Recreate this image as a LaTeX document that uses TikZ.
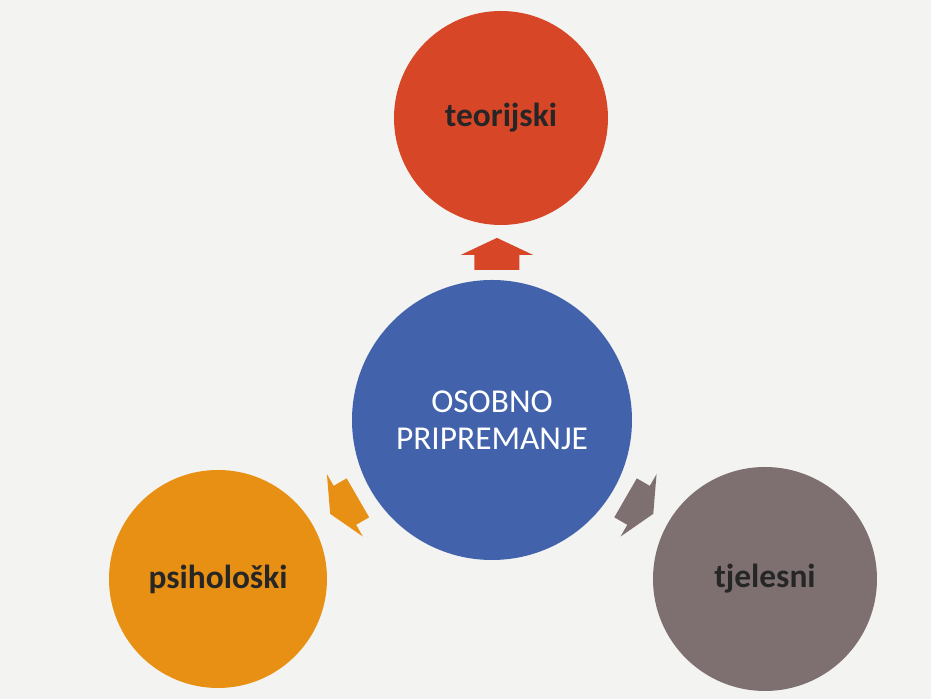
\documentclass[tikz,border=0pt]{standalone}
\usepackage{fontspec}
\setmainfont{Carlito}
\usetikzlibrary{calc}
\definecolor{pozadina}{RGB}{243,243,241}
\definecolor{crvena}{RGB}{216,70,40}
\definecolor{plava}{RGB}{66,99,172}
\definecolor{narancasta}{RGB}{232,144,20}
\definecolor{siva}{RGB}{126,112,112}
\tikzset{
  krug/.style={circle,inner sep=0pt,align=center,font=\fontsize{9.5}{11}\selectfont\bfseries,text=black!85},
  pics/strelica/.style={code={
      \fill[#1] (-0.16,-0.225) -- (-0.01,-0.225) -- (-0.01,-0.36) -- (0.16,0)
        -- (-0.01,0.36) -- (-0.01,0.225) -- (-0.16,0.225) -- cycle;}}
}
\begin{document}
\begin{tikzpicture}
      \fill[pozadina] (0,0) rectangle (9.31,6.99);
      \useasboundingbox (0,0) rectangle (9.31,6.99);
      \node[krug,fill=plava,minimum size=2.80cm,text=white,font=\fontsize{9.5}{10.5}\selectfont] (osobno) at (4.92,2.79) {OSOBNO\\PRIPREMANJE};
      \node[krug,fill=crvena,minimum size=2.14cm] (teorijski) at (5.01,5.81) {teorijski};
      \node[krug,fill=narancasta,minimum size=2.18cm] (psiholoski) at (2.18,1.20) {psihološki};
      \node[krug,fill=siva,minimum size=2.24cm] (tjelesni) at (7.65,1.20) {tjelesni};
      \pic[rotate=90] at ($(osobno)!0.55!(teorijski)$) {strelica=crvena};
      \pic[rotate=210] at ($(osobno)!0.54!(psiholoski)$) {strelica=narancasta};
      \pic[rotate=330] at ($(osobno)!0.54!(tjelesni)$) {strelica=siva};
    \end{tikzpicture}
\end{document}
